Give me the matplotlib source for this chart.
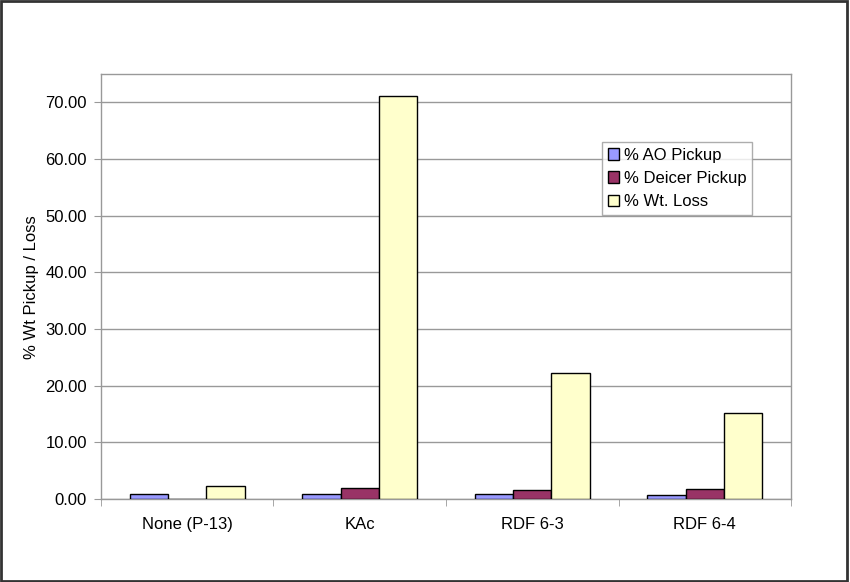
import numpy as np
import matplotlib.pyplot as plt
from matplotlib.patches import Rectangle

categories = ['None (P-13)', 'KAc', 'RDF 6-3', 'RDF 6-4']
ao_pickup = [0.8, 0.8, 0.8, 0.7]
deicer_pickup = [0.0, 1.9, 1.6, 1.7]
wt_loss = [2.3, 71.1, 22.3, 15.1]

series = [('% AO Pickup', ao_pickup, '#9999FF'),
          ('% Deicer Pickup', deicer_pickup, '#993366'),
          ('% Wt. Loss', wt_loss, '#FFFFCC')]

plt.rcParams['font.family'] = ['Liberation Sans', 'DejaVu Sans']

fig = plt.figure(figsize=(8.5, 5.82), dpi=100)
fig.patches.append(Rectangle((0.001, 0.002), 0.996, 0.996, transform=fig.transFigure,
                             fill=False, edgecolor='#333333', linewidth=2))
ax = fig.add_axes([0.1188, 0.1426, 0.8118, 0.7295])

x = np.arange(len(categories))
width = 1 / 4.5
for i, (name, vals, col) in enumerate(series):
    ax.bar(x + (i - 1) * width, vals, width, color=col, edgecolor='black',
           linewidth=1, label=name, zorder=3)

ax.set_xlim(-0.5, len(categories) - 0.5)
ax.set_ylim(0, 74.9)
ax.set_yticks(np.arange(0, 71, 10))
ax.set_yticklabels([f'{v:.2f}' for v in np.arange(0, 71, 10)], fontsize=12)
ax.yaxis.grid(True, color='#999999', linewidth=1, zorder=0)

ax.set_xticks(x)
ax.set_xticklabels(categories, fontsize=12)
ax.set_xticks(np.arange(-0.5, len(categories)), minor=True)
ax.tick_params(axis='x', which='major', length=0, pad=13)
ax.tick_params(axis='x', which='minor', length=5, color='#999999')
ax.tick_params(axis='y', length=5, color='#999999', pad=5)

for s in ax.spines.values():
    s.set_color('#999999')
    s.set_linewidth(1)

ax.set_ylabel('% Wt Pickup / Loss', fontsize=12, labelpad=5)

leg = ax.legend(loc='upper left', bbox_to_anchor=(0.726, 0.841), fontsize=12,
                frameon=True, fancybox=False, borderpad=0.35, labelspacing=0.5,
                handlelength=0.7, handleheight=0.7, handletextpad=0.25,
                borderaxespad=0)
leg.get_frame().set_edgecolor('#999999')
leg.get_frame().set_linewidth(1)

fig.savefig('out.png', dpi=100)
